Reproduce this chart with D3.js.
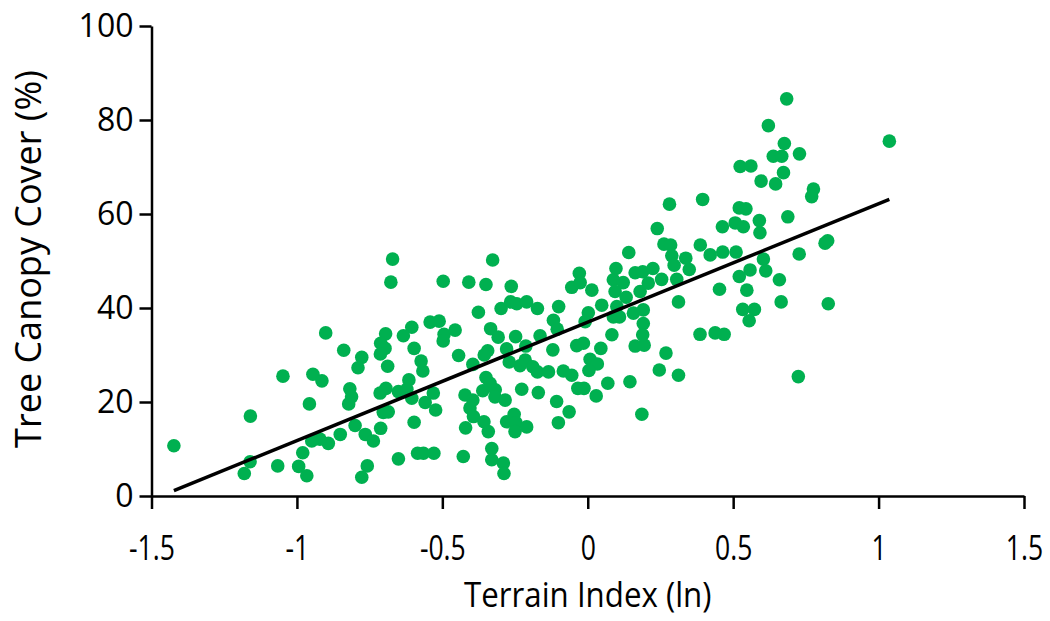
<!DOCTYPE html>
<html>
<head>
<meta charset="utf-8">
<script src="https://cdn.jsdelivr.net/npm/d3@7"></script>
<style>
  body { margin: 0; background: #fff; }
  svg text { font-family: "Open Sans", "DejaVu Sans", sans-serif; fill: #000; }
</style>
</head>
<body>
<div id="chart"></div>
<script>
// terrain index (ln) values
var terrain = [
  -0.901, -0.839, -1.048, -0.945, -0.914, -0.957, -1.160, -1.423, -0.818, -0.822,
  -0.851, -0.892, -0.921, -0.949, -0.980, -1.161, -1.181, -1.066, -0.994, -0.966,
  -0.671, -0.327, -0.677, -0.497, -0.409, -0.350, -0.263, -0.376, -0.298, -0.265,
  -0.244, -0.210, -0.542, -0.511, -0.605, -0.695, -0.634, -0.494, -0.456, -0.497,
  -0.334, -0.308, -0.248, -0.712, -0.697, -0.713, -0.597, -0.444, -0.344, -0.356,
  -0.279, -0.213, -0.777, -0.790, -0.688, -0.573, -0.567, -0.395, -0.270, -0.233,
  -0.215, -0.350, -0.336, -0.361, -0.318, -0.227, -0.812, -0.714, -0.694, -0.651,
  -0.615, -0.622, -0.605, -0.531, -0.559, -0.523, -0.686, -0.703, -0.422, -0.395,
  -0.405, -0.319, -0.284, -0.393, -0.357, -0.279, -0.253, -0.247, -0.597, -0.800,
  -0.765, -0.737, -0.712, -0.420, -0.342, -0.250, -0.651, -0.585, -0.565, -0.529,
  -0.428, -0.330, -0.330, -0.290, -0.288, -0.758, -0.777,
  0.262, 0.285, 0.387, 0.421, 0.141, 0.289, 0.337, 0.297, 0.349, 0.097,
  0.163, 0.189, 0.224, -0.029, -0.055, -0.026, 0.014, 0.088, 0.122, 0.094,
  0.132, 0.180, 0.208, 0.254, 0.306, 0.312, -0.173, -0.100, 0.048, 0.100,
  0.002, -0.118, -0.009, 0.088, 0.109, 0.157, 0.191, 0.191, -0.105, -0.164,
  0.083, 0.189, 0.386, -0.120, -0.038, -0.015, 0.045, 0.163, 0.194, 0.269,
  0.008, 0.033, 0.004, 0.246, 0.312, -0.189, -0.173, -0.135, -0.084, -0.055,
  -0.034, -0.013, 0.069, 0.145, 0.029, -0.170, -0.107, -0.064, -0.101, 0.186,
  -0.210,
  0.684, 0.621, 1.037, 0.676, 0.638, 0.667, 0.728, 0.524, 0.561, 0.673,
  0.596, 0.646, 0.776, 0.770, 0.395, 0.521, 0.544, 0.590, 0.592, 0.688,
  0.507, 0.535, 0.463, 0.816, 0.825, 0.464, 0.510, 0.604, 0.727, 0.558,
  0.521, 0.612, 0.659, 0.453, 0.547, 0.665, 0.827, 0.533, 0.573, 0.555,
  0.438, 0.469, 0.724, 0.281, 0.239
];

// tree canopy cover (%) for the same points
var canopy = [
  34.7, 31.0, 25.5, 25.9, 24.5, 19.6, 17.0, 10.7, 22.8, 19.6,
  13.1, 11.2, 12.1, 11.7, 9.2, 7.3, 4.8, 6.4, 6.3, 4.3,
  50.4, 50.2, 45.5, 45.7, 45.5, 45.0, 44.6, 39.1, 39.9, 41.3,
  40.9, 41.3, 37.0, 37.2, 35.9, 34.5, 34.1, 34.4, 35.3, 33.0,
  35.6, 33.8, 33.9, 32.5, 31.4, 30.2, 31.4, 29.9, 30.9, 30.0,
  31.3, 31.9, 29.5, 27.3, 27.6, 28.7, 26.6, 28.0, 28.5, 27.7,
  28.9, 25.2, 24.0, 22.4, 22.6, 22.7, 21.1, 21.9, 22.9, 22.2,
  24.7, 22.7, 20.8, 21.9, 19.9, 18.3, 17.9, 17.8, 21.5, 20.4,
  18.7, 21.1, 20.4, 16.9, 15.8, 15.8, 17.4, 15.6, 15.7, 15.0,
  13.1, 11.7, 14.4, 14.5, 13.7, 13.7, 7.9, 9.1, 9.1, 9.1,
  8.4, 10.1, 7.7, 7.0, 4.8, 6.4, 4.0,
  53.6, 53.4, 53.4, 51.3, 51.8, 51.1, 50.6, 49.1, 48.2, 48.4,
  47.5, 47.7, 48.4, 47.4, 44.4, 45.4, 43.8, 46.0, 45.4, 43.5,
  42.3, 43.5, 45.3, 46.1, 46.1, 41.3, 39.9, 40.3, 40.6, 40.3,
  39.0, 37.4, 37.1, 38.1, 38.1, 38.9, 39.6, 36.7, 35.5, 34.1,
  34.3, 34.3, 34.4, 31.1, 32.0, 32.5, 31.4, 31.9, 32.1, 30.4,
  29.1, 28.1, 26.7, 26.8, 25.7, 27.5, 26.4, 26.4, 26.6, 25.7,
  22.9, 22.9, 24.0, 24.3, 21.3, 22.0, 20.1, 17.9, 15.6, 17.4,
  14.7,
  84.5, 78.8, 75.5, 75.0, 72.3, 72.3, 72.8, 70.1, 70.2, 68.8,
  67.0, 66.4, 65.3, 63.7, 63.1, 61.3, 61.1, 58.6, 56.0, 59.4,
  58.1, 57.3, 57.3, 53.8, 54.3, 51.9, 51.9, 50.4, 51.5, 48.1,
  46.7, 47.9, 46.0, 44.0, 43.8, 41.3, 40.9, 39.7, 39.7, 37.3,
  34.7, 34.4, 25.4, 62.1, 56.9
];

var xTicks = [-1.5, -1, -0.5, 0, 0.5, 1, 1.5];
var xTickLabels = ["-1.5", "-1", "-0.5", "0", "0.5", "1", "1.5"];
var yTicks = [0, 20, 40, 60, 80, 100];
var yTickLabels = ["0", "20", "40", "60", "80", "100"];

// linear trend line
var trendSlope = 25.2;
var trendIntercept = 37.0;

var data = terrain.map(function(t, i) { return {x: t, y: canopy[i]}; });

var margin = {top: 26, right: 26, bottom: 125, left: 151.5},
    width = 1050 - margin.left - margin.right,
    height = 621 - margin.top - margin.bottom;

var svg = d3.select("#chart")
  .append("svg")
    .attr("width", 1050)
    .attr("height", 621)
  .append("g")
    .attr("transform", "translate(" + margin.left + "," + margin.top + ")");

var x = d3.scaleLinear().domain([-1.5, 1.5]).range([0, width]);
var y = d3.scaleLinear().domain([0, 100]).range([height, 0]);

// X axis
var xAxis = svg.append("g")
  .attr("transform", "translate(0," + height + ")")
  .call(d3.axisBottom(x)
    .tickValues(xTicks)
    .tickFormat(function(d, i) { return xTickLabels[i]; })
    .tickSize(13)
    .tickSizeOuter(0)
    .tickPadding(27));
xAxis.selectAll("text")
  .style("font-size", "34px")
  .attr("transform", "scale(0.78,1)");

// Y axis
var yAxis = svg.append("g")
  .call(d3.axisLeft(y)
    .tickValues(yTicks)
    .tickFormat(function(d, i) { return yTickLabels[i]; })
    .tickSize(12)
    .tickSizeOuter(0)
    .tickPadding(6));
yAxis.selectAll("text").style("font-size", "32px");

svg.selectAll(".domain, .tick line")
  .attr("stroke", "#000")
  .attr("stroke-width", 2.5);

// dots
svg.append("g")
  .selectAll("circle")
  .data(data)
  .enter()
  .append("circle")
    .attr("cx", function(d) { return x(d.x); })
    .attr("cy", function(d) { return y(d.y); })
    .attr("r", 6.8)
    .style("fill", "#00B050");

// trend line over the data range
var xMin = d3.min(terrain), xMax = d3.max(terrain);
svg.append("line")
  .attr("x1", x(xMin))
  .attr("y1", y(trendIntercept + trendSlope * xMin))
  .attr("x2", x(xMax))
  .attr("y2", y(trendIntercept + trendSlope * xMax))
  .attr("stroke", "#000")
  .attr("stroke-width", 3.5);

// axis titles
svg.append("text")
  .attr("x", x(0))
  .attr("y", height + 111)
  .style("text-anchor", "middle")
  .style("font-size", "34px")
  .attr("transform", "translate(" + x(0) * 0.08 + ",0) scale(0.92,1)")
  .text("Terrain Index (ln)");

svg.append("text")
  .attr("transform", "rotate(-90)")
  .attr("x", -(259 - margin.top))
  .attr("y", 41 - margin.left)
  .style("text-anchor", "middle")
  .style("font-size", "36px")
  .text("Tree Canopy Cover (%)");
</script>
</body>
</html>
